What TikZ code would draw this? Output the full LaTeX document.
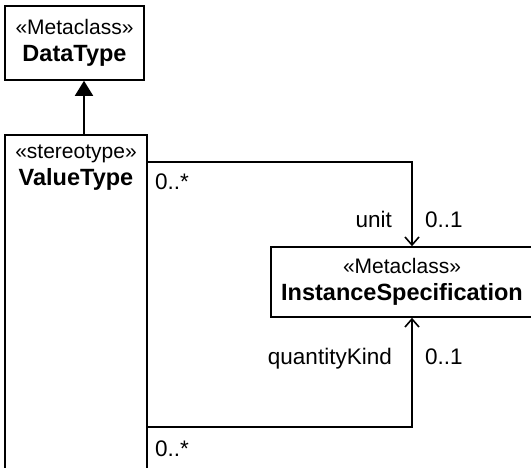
\documentclass[tikz,border=0pt]{standalone}
\usepackage{fontspec}
\setmainfont{Liberation Sans}
\usetikzlibrary{arrows.meta,positioning}
\newcommand{\umlname}[1]{{\fontsize{23.5}{27}\selectfont\bfseries #1}}
\tikzset{
  umlclass/.style={draw,line width=1.6pt,align=center,inner sep=0pt,font=\fontsize{21}{27}\selectfont},
  classtext/.style={align=center,inner sep=0pt,font=\fontsize{21}{27}\selectfont},
  roletext/.style={inner sep=0pt,font=\fontsize{22.5}{25}\selectfont},
  generalization/.style={-{Triangle[length=15pt,width=18pt]},line width=1.6pt},
  assoc/.style={-{Straight Barb[length=8pt,width=14pt]},line width=1.6pt}
}
\begin{document}
\begin{tikzpicture}[x=1pt,y=1pt]
\clip (0,0) rectangle (531,468);
\node[umlclass,minimum width=139pt,minimum height=74pt] (datatype) at (74.5,425) {«Metaclass»\\\umlname{DataType}};
\node[umlclass,minimum width=142pt,minimum height=360pt,anchor=north] (valuetype) at (76,334) {};
\node[classtext,below=11pt of valuetype.north] (valuehead) {«stereotype»\\\umlname{ValueType}};
\node[umlclass,minimum width=262pt,minimum height=70pt] (instspec) at (402,186) {«Metaclass»\\\umlname{InstanceSpecification}};
\draw[generalization] ([xshift=8pt]valuetype.north) -- ([xshift=8pt]valuetype.north |- datatype.south);
\draw[assoc] ([yshift=-28pt]valuetype.north east) -| ([xshift=10pt]instspec.north);
\draw[assoc] ([yshift=-293pt]valuetype.north east) -| ([xshift=10pt]instspec.south);
\node[roletext,anchor=base west] (unitmany) at (155,278) {0..*};
\node[roletext,anchor=base east] (unitrole) at (392,240) {unit};
\node[roletext,anchor=base west] (unitmult) at (425,240) {0..1};
\node[roletext,anchor=base east] (kindrole) at (392,103) {quantityKind};
\node[roletext,anchor=base west] (kindmult) at (425,103) {0..1};
\node[roletext,anchor=base west] (kindmany) at (155,11.3) {0..*};
\end{tikzpicture}
\end{document}
